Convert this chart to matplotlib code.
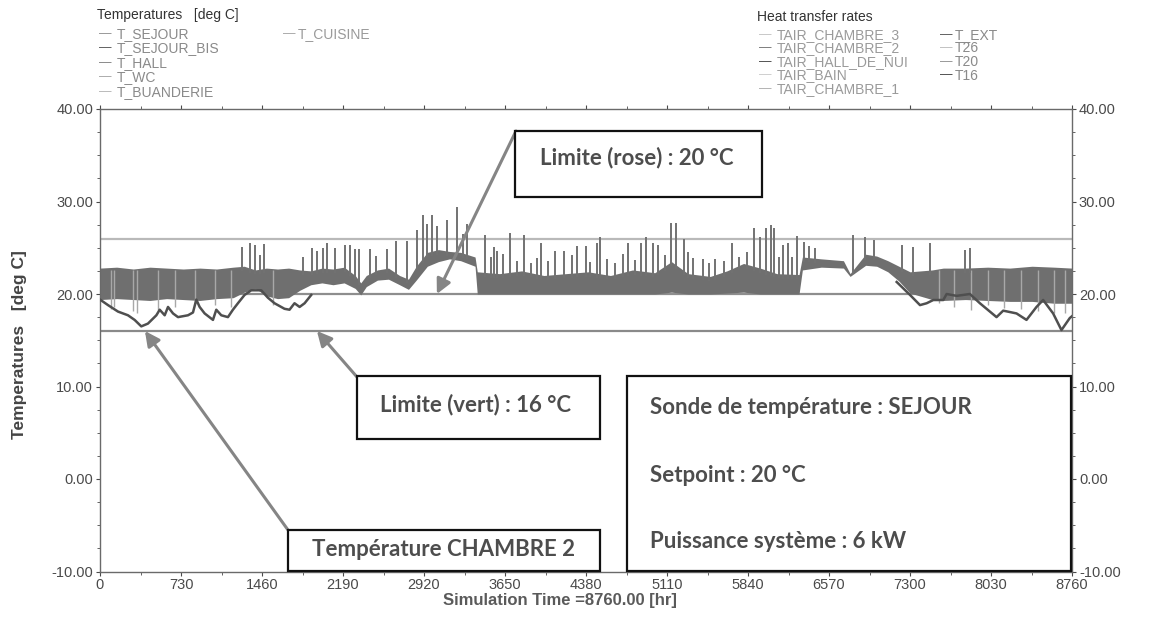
import numpy as np
import matplotlib
matplotlib.use("Agg")
import matplotlib.pyplot as plt
from matplotlib.patches import Rectangle
from matplotlib.ticker import MultipleLocator, FormatStrFormatter

# envelope of the dense SEJOUR band (hr, deg C)
band_hours = [0, 150, 300, 450, 600, 750, 900, 1050, 1200, 1300, 1400, 1500, 1600, 1700,
              1800, 1900, 2000, 2100, 2200, 2300, 2350, 2400, 2500, 2600, 2700, 2780,
              2850, 2950, 3050, 3150, 3250, 3380, 3400, 3600, 3800, 4000, 4200, 4400,
              4600, 4800, 5000, 5150, 5300, 5500, 5650, 5800, 5950, 6100, 6300, 6330,
              6500, 6700, 6760, 6900, 7000, 7100, 7200, 7300, 7500, 7600, 7800, 8000,
              8200, 8400, 8600, 8760]
band_top = [22.8, 22.9, 22.7, 22.9, 22.8, 22.7, 22.8, 22.7, 22.9, 23.0, 22.6, 22.8, 22.7, 22.8,
            22.6, 22.5, 22.8, 22.7, 22.9, 22.0, 21.2, 22.0, 22.6, 22.8, 22.0, 21.6,
            23.0, 24.5, 24.8, 24.6, 24.5, 24.0, 22.4, 22.2, 22.5, 22.0, 22.2, 22.4,
            22.0, 22.6, 22.3, 23.5, 22.2, 21.9, 22.5, 23.3, 22.8, 22.2, 22.1, 24.0,
            23.8, 23.6, 22.2, 24.3, 24.1, 23.6, 23.0, 22.4, 22.6, 22.8, 22.8, 22.9,
            22.8, 23.0, 22.9, 22.8]
band_bot = [19.4, 19.5, 19.4, 19.3, 19.5, 19.4, 19.3, 19.5, 19.6, 20.2, 20.6, 19.8, 19.5, 19.6,
            20.4, 21.0, 21.2, 21.0, 21.2, 20.6, 19.9, 20.8, 21.5, 21.6, 21.0, 20.5,
            21.5, 23.0, 23.5, 23.8, 23.6, 23.0, 20.0, 20.0, 20.0, 20.0, 20.0, 20.0,
            20.0, 20.0, 20.0, 20.2, 20.0, 20.0, 20.1, 20.2, 20.0, 20.0, 20.0, 22.6,
            22.9, 22.8, 21.9, 23.1, 23.0, 22.4, 21.4, 20.1, 19.4, 19.3, 19.4, 19.3,
            19.2, 19.2, 19.0, 19.0]

# TAIR_CHAMBRE_2 where it leaves the band (winter start / winter end)
c2_hours_a = [0, 72, 162, 252, 312, 372, 432, 508, 538, 583, 613, 658, 703, 793, 838, 868,
              898, 943, 1018, 1048, 1093, 1153, 1198, 1243, 1303, 1363, 1453, 1513, 1573,
              1663, 1708, 1753, 1799, 1844, 1904]
c2_temp_a = [19.4, 18.8, 18.1, 17.7, 17.2, 16.5, 16.8, 17.7, 18.3, 17.7, 18.6, 17.9, 17.5,
             17.7, 18.0, 19.4, 18.6, 17.9, 17.2, 18.3, 17.7, 17.5, 18.3, 19.0, 19.9, 20.4,
             20.4, 19.6, 19.0, 18.4, 18.3, 19.0, 18.6, 19.0, 19.9]
c2_hours_b = [7180, 7300, 7390, 7450, 7510, 7600, 7630, 7720, 7840, 7930, 8080, 8140, 8260,
              8350, 8440, 8500, 8590, 8665, 8740, 8760]
c2_temp_b = [21.3, 19.9, 18.8, 19.0, 19.35, 19.35, 20.0, 19.8, 20.0, 19.0, 17.5, 18.2, 17.9,
             17.2, 18.6, 19.35, 17.9, 16.1, 17.4, 17.6]

# short peaks above the band
spike_hours = [1280, 1350, 1395, 1440, 1475, 1830, 1910, 1955, 2010, 2045, 2115, 2207, 2250,
               2295, 2330, 2430, 2485, 2585, 2665, 2770, 2856, 2910, 2950, 2990, 3035, 3125,
               3215, 3270, 3310, 3470, 3520, 3550, 3580, 3635, 3695, 3760, 3820, 3880, 3935,
               3975, 4040, 4100, 4180, 4250, 4300, 4380, 4420, 4475, 4510, 4565, 4640, 4710,
               4755, 4820, 4880, 4925, 4980, 5030, 5090, 5150, 5190, 5260, 5300, 5340, 5430,
               5490, 5540, 5620, 5700, 5760, 5830, 5890, 5945, 6000, 6045, 6075, 6120, 6155,
               6200, 6240, 6280, 6345, 6390, 6440, 6790, 6890, 6980, 7225, 7330, 7480, 7795,
               7840]
spike_tops = [25.1, 25.5, 25.3, 24.2, 25.4, 24.0, 25.0, 24.6, 25.0, 25.5, 25.0, 25.3, 25.3,
              24.9, 24.9, 24.9, 24.1, 24.9, 25.7, 25.7, 26.9, 28.5, 27.6, 28.5, 27.3, 28.0,
              29.4, 26.5, 27.6, 26.4, 24.0, 25.1, 24.7, 24.3, 26.6, 23.6, 26.4, 23.4, 23.9,
              25.5, 23.6, 24.6, 24.6, 24.2, 25.2, 25.2, 23.5, 25.5, 26.2, 23.8, 23.4, 24.3,
              25.5, 23.7, 25.5, 26.2, 25.5, 25.3, 24.2, 27.7, 27.7, 25.9, 24.5, 23.9, 23.8,
              23.4, 23.8, 23.6, 25.5, 24.0, 24.5, 27.1, 26.2, 27.1, 27.5, 27.1, 24.0, 25.3,
              25.5, 24.0, 26.3, 25.6, 25.2, 25.0, 26.4, 26.2, 25.8, 25.3, 25.1, 25.5, 24.8,
              25.0]

# light stripes that dip below the winter band
stripe_hours = [100, 130, 300, 330, 520, 680, 860, 1040, 1180, 1560, 7560, 7700, 7850, 8000,
                8150, 8300, 8450, 8600, 8700]
stripe_bots = [18.4, 18.6, 18.2, 18.0, 18.3, 18.6, 18.9, 18.8, 18.6, 18.8, 19.0, 18.6, 18.3,
               18.8, 18.5, 18.4, 18.2, 18.0, 18.0]

limit_values = [26, 20, 16]
limit_colors = ['#b9b9b9', '#8e8e8e', '#8a8a8a']
x_ticks = [0, 730, 1460, 2190, 2920, 3650, 4380, 5110, 5840, 6570, 7300, 8030, 8760]

temp_names = ['T_SEJOUR', 'T_SEJOUR_BIS', 'T_HALL', 'T_WC', 'T_BUANDERIE']
temp_names2 = ['T_CUISINE']
heat_names = ['TAIR_CHAMBRE_3', 'TAIR_CHAMBRE_2', 'TAIR_HALL_DE_NUI', 'TAIR_BAIN', 'TAIR_CHAMBRE_1']
heat_names2 = ['T_EXT', 'T26', 'T20', 'T16']

W, H = 1175, 619
def fx(px):
    return px / W
def fy(py):
    return 1 - py / H

plt.rcParams['font.family'] = ['Liberation Sans', 'DejaVu Sans']
fig = plt.figure(figsize=(W / 100, H / 100), dpi=100)
ax = fig.add_axes([fx(100), fy(571.5), fx(1072) - fx(100), fy(109) - fy(571.5)])

for v, c in zip(limit_values, limit_colors):
    ax.axhline(v, color=c, lw=1.6, zorder=1)

ax.fill_between(band_hours, band_bot, band_top, color='#6f6f6f', lw=0, zorder=2)
ax.vlines(stripe_hours, stripe_bots, 22.6, color='#a8a8a8', lw=1.0, zorder=2)
base = np.interp(spike_hours, band_hours, band_top) - 0.5
ax.vlines(spike_hours, base, spike_tops, color='#727272', lw=1.4, zorder=3)
ax.plot(c2_hours_a, c2_temp_a, color='#4f4f4f', lw=1.8, zorder=4)
ax.plot(c2_hours_b, c2_temp_b, color='#4f4f4f', lw=1.8, zorder=4)

ax.set_xlim(0, 8760)
ax.set_ylim(-10, 40)
ax.set_xticks(x_ticks)
ax.xaxis.set_minor_locator(MultipleLocator(365))
ax.yaxis.set_major_locator(MultipleLocator(10))
ax.yaxis.set_minor_locator(MultipleLocator(2.5))
ax.yaxis.set_major_formatter(FormatStrFormatter('%.2f'))
ax.tick_params(which='both', direction='out', colors='#4a4a4a', labelsize=10.5, pad=2,
               right=True, labelright=True, top=True)
ax.tick_params(which='major', length=3)
ax.tick_params(which='minor', length=2)
for s in ax.spines.values():
    s.set_color('#6a6a6a')
    s.set_linewidth(1.0)

fig.text(fx(20), fy(345), 'Temperatures   [deg C]', rotation=90, ha='center', va='center',
         fontsize=12.5, fontweight='bold', color='#444444')
fig.text(fx(560), fy(600), 'Simulation Time =8760.00 [hr]', ha='center', va='center',
         fontsize=12, fontweight='bold', color='#5a5a5a')

# legend block at the top
fig.text(fx(97), fy(15), 'Temperatures   [deg C]', fontsize=10, color='#333333', va='center')
fig.text(fx(757), fy(17), 'Heat transfer rates', fontsize=10, color='#333333', va='center')
dash_cols = ['#8a8a8a', '#4a4a4a', '#7a7a7a', '#a0a0a0', '#b0b0b0']
for i, n in enumerate(temp_names):
    fig.text(fx(99), fy(34 + 14.5 * i), '\u2014', fontsize=9, color=dash_cols[i], va='center')
    fig.text(fx(117), fy(34 + 14.5 * i), n, fontsize=10, color='#8a8a8a', va='center')
for i, n in enumerate(temp_names2):
    fig.text(fx(283), fy(34 + 14.5 * i), '\u2014', fontsize=9, color='#a0a0a0', va='center')
    fig.text(fx(298), fy(34 + 14.5 * i), n, fontsize=10, color='#9a9a9a', va='center')
heat_cols = ['#c0c0c0', '#6a6a6a', '#3a3a3a', '#c8c8c8', '#a8a8a8']
for i, n in enumerate(heat_names):
    fig.text(fx(759), fy(35 + 13.5 * i), '\u2014', fontsize=9, color=heat_cols[i], va='center')
    fig.text(fx(777), fy(35 + 13.5 * i), n, fontsize=10, color='#9a9a9a', va='center')
heat_cols2 = ['#4a4a4a', '#b8b8b8', '#8a8a8a', '#3a3a3a']
for i, n in enumerate(heat_names2):
    fig.text(fx(940), fy(35 + 13.5 * i), '\u2014', fontsize=9, color=heat_cols2[i], va='center')
    fig.text(fx(955), fy(35 + 13.5 * i), n, fontsize=10, color='#8a8a8a', va='center')

# annotation boxes
def box(x0, y0, x1, y1):
    r = Rectangle((fx(x0), fy(y1)), fx(x1) - fx(x0), fy(y0) - fy(y1), transform=fig.transFigure,
                  facecolor='white', edgecolor='#111111', lw=1.6, zorder=10)
    fig.add_artist(r)

def arrow(target, px, py):
    ax.annotate('', xy=target, xycoords='data', xytext=(fx(px), fy(py)),
                textcoords='figure fraction',
                arrowprops=dict(arrowstyle='-|>', color='#858585', lw=2.2, mutation_scale=22,
                                shrinkA=0, shrinkB=0), zorder=9)

box_font = dict(family=['Lato', 'DejaVu Sans'], fontweight='bold', color='#4d4d4d',
                fontsize=16, va='center', zorder=11)
arrow((3036, 20), 516, 131)
arrow((1955, 16), 357, 377)
arrow((405, 16), 288, 530)
box(515, 131, 762, 197)
fig.text(fx(540), fy(158), 'Limite (rose) : 20 °C', **box_font)
box(357, 376, 600, 439)
fig.text(fx(380), fy(405), 'Limite (vert) : 16 °C', **box_font)
box(288, 530, 600, 571)
fig.text(fx(312), fy(549), 'Température CHAMBRE 2', **box_font)
box(627, 376, 1071, 571)
fig.text(fx(650), fy(408), 'Sonde de température : SEJOUR', **box_font)
fig.text(fx(650), fy(476), 'Setpoint : 20 °C', **box_font)
fig.text(fx(650), fy(541), 'Puissance système : 6 kW', **box_font)

fig.savefig('out.png', dpi=100)
